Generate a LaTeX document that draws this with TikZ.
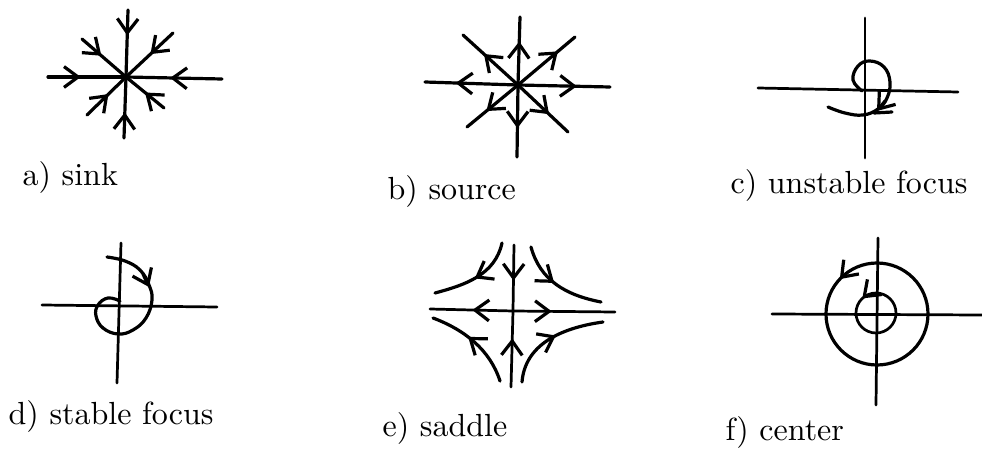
\documentclass[tikz,border=0pt]{standalone}
\usetikzlibrary{arrows.meta,decorations.markings}
\tikzset{
  ln/.style={line width=1pt, line cap=round},
  ax/.style={line width=0.85pt, line cap=round},
  tip/.style={-{Straight Barb[length=4.4pt,width=6.5pt,line width=1pt]}},
  marr/.style={postaction={decorate},decoration={markings,mark=at position #1 with {\arrow{Straight Barb[length=4.4pt,width=6.5pt,line width=1pt]}}}},
  lbl/.style={anchor=base west, inner sep=0pt},
}
\begin{document}
\begin{tikzpicture}[x=0.3125pt,y=-0.3125pt]
\useasboundingbox (0,0) rectangle (982,451);

% ---------- a) sink
\coordinate (A) at (126,77);
\draw[ln,marr=0.38] (128,10) -- (A);
\draw[ln,marr=0.42] (124,138) -- (A);
\draw[ln,marr=0.42] (48,77) -- (A);
\draw[ln,marr=0.54] (222,79) -- (A);
\draw[ln,marr=0.44] (82,39) -- (A);
\draw[ln,marr=0.48] (173,33) -- (A);
\draw[ln,marr=0.55] (87,115) -- (A);
\draw[ln,marr=0.5] (164,108) -- (A);
\node[lbl] (la) at (22,186) {a) sink};

% ---------- b) source
\coordinate (B) at (518,85);
\draw[ln,marr=0.64] (B) -- (520,17);
\draw[ln,marr=0.6] (B) -- (517,157);
\draw[ln,marr=0.67] (B) -- (425,82);
\draw[ln,marr=0.64] (B) -- (610,87);
\draw[ln,marr=0.62] (B) -- (463,35);
\draw[ln,marr=0.7] (B) -- (575,37);
\draw[ln,marr=0.62] (B) -- (467,127);
\draw[ln,marr=0.62] (B) -- (568,132);
\node[lbl] (lb) at (387,200) {b) source};

% ---------- c) unstable focus
\coordinate (C) at (865,90);
\draw[ax] (865,18) -- (865,158);
\draw[ax] (758,88) -- (958,92);
\draw[ln] plot[smooth,tension=0.7] coordinates
  {(862,91) (853,80) (858,66) (870,61) (884,67) (890,82) (887,98) (878,109) (863,115) (845,113) (828,107)};
\coordinate (c1) at (885,101);
\coordinate (c2) at (877,111);
\draw[ln,tip] (c1) -- (c2);
\coordinate (c3) at (874,113);
\coordinate (c4) at (892,112);
\draw[ln] (c3) -- (c4);
\node[lbl] (lc) at (730,194) {c) unstable focus};

% ---------- d) stable focus
\coordinate (D) at (120,306);
\draw[ax] (121,243) -- (117,383);
\draw[ax] (42,305) -- (217,307);
\draw[ln] plot[smooth,tension=0.7] coordinates
  {(107,257) (125,261) (140,270) (149,285) (152,300) (146,318) (133,330) (118,334) (103,328) (96,316) (98,305) (108,298) (120,301)};
\coordinate (d1) at (143,274);
\coordinate (d2) at (149,287);
\draw[ln,tip] (d1) -- (d2);
\node[lbl] (ld) at (8,424) {d) stable focus};

% ---------- e) saddle
\coordinate (E) at (513,311);
\draw[ax,marr=0.54] (514,245) -- (E);
\draw[ax,marr=0.64] (511,387) -- (E);
\draw[ax,marr=0.49] (E) -- (430,309);
\draw[ax,marr=0.38] (E) -- (615,312);
\draw[ln,marr=0.52] (502,243) .. controls (495,275) and (465,285) .. (435,293);
\draw[ln,marr=0.46] (531,247) .. controls (540,280) and (565,295) .. (601,302);
\draw[ln,marr=0.58] (500,381) .. controls (490,350) and (465,330) .. (433,318);
\draw[ln,marr=0.55] (522,382) .. controls (525,345) and (560,328) .. (603,322);
\node[lbl] (le) at (382,436) {e) saddle};

% ---------- f) center
\coordinate (F) at (877,314);
\draw[ax] (878,238) -- (876,405);
\draw[ax] (772,314) -- (982,315);
\draw[ln,marr=0.38] (F) ++(51,0) arc[start angle=0, end angle=-360, radius=51];
\draw[ax,marr=0.37] (876,313) ++(20,0) arc[start angle=0, end angle=-360, radius=20];
\node[lbl] (lf) at (725,441) {f) center};
\end{tikzpicture}
\end{document}
